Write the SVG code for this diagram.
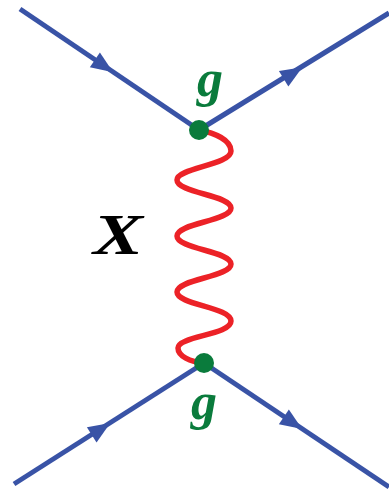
<svg xmlns="http://www.w3.org/2000/svg" width="389" height="494" viewBox="0 0 389 494">
<style>
.fermion{stroke:#3953a6;stroke-width:5;fill:none;stroke-linecap:butt}
.arrow{fill:#3953a6}
.boson{stroke:#ec2227;stroke-width:5.5;fill:none;stroke-linecap:round}
.vertex{fill:#0a7b3c}
.g{font-family:"Liberation Serif",serif;font-style:italic;font-weight:bold;font-size:52px;fill:#0a7b3c;text-anchor:middle}
.x{font-family:"Liberation Serif",serif;font-style:italic;font-weight:bold;font-size:57px;fill:#000}
</style>
<defs>
<polygon id="arr" points="11,0 -11,-9 -11,9"/>
</defs>
<g id="connectors">
<line class="fermion" x1="20" y1="9" x2="199" y2="130"/>
<line class="fermion" x1="199" y1="130" x2="389" y2="13"/>
<line class="fermion" x1="14" y1="484" x2="204" y2="363"/>
<line class="fermion" x1="204" y1="363" x2="389" y2="487"/>
<use href="#arr" class="arrow" transform="translate(104,66) rotate(34.06)"/>
<use href="#arr" class="arrow" transform="translate(293,73) rotate(-31.6)"/>
<use href="#arr" class="arrow" transform="translate(101,429) rotate(-32.5)"/>
<use href="#arr" class="arrow" transform="translate(293,423) rotate(33.8)"/>
<path class="boson" d="M199,130 C215,133 231,140 231,151 C231,165 177,168 177,180 C177,193 231,195 231,208 C231,221 177,223 177,236 C177,249 231,251 231,264 C231,277 177,279 177,292 C177,305 231,307 231,321 C231,335 178,336 178,348 C178,356 190,362 204,363"/>
</g>
<g id="vertex-top"><circle class="vertex" cx="199" cy="130" r="10"/></g>
<g id="vertex-bottom"><circle class="vertex" cx="204" cy="363" r="10"/></g>
<g id="label-g-top"><text class="g" x="210" y="96">g</text></g>
<g id="label-g-bottom"><text class="g" x="204" y="419">g</text></g>
<g id="label-x"><text class="x" x="93" y="254" textLength="50" lengthAdjust="spacingAndGlyphs">X</text></g>
</svg>
